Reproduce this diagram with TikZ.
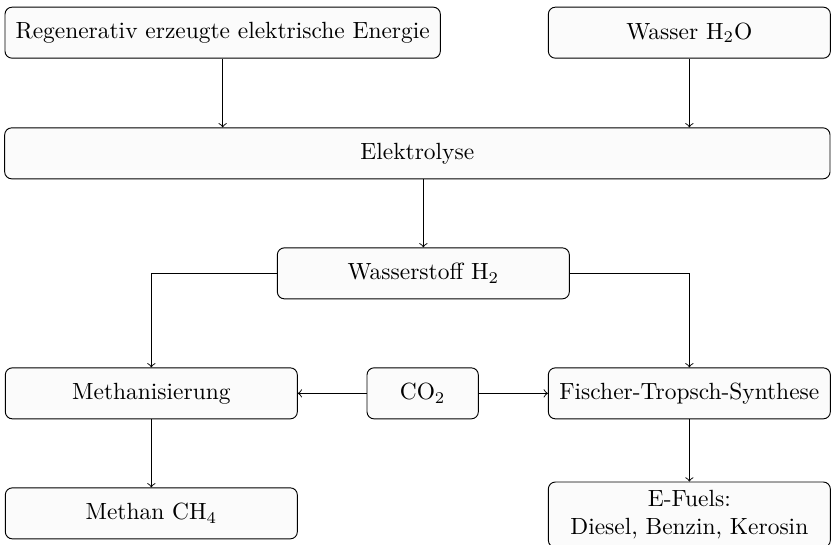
\documentclass[tikz,border=0pt]{standalone}
\usepackage{amsmath,amssymb}
\usepackage{tikz}

\tikzset{
  stage/.style={draw, rounded corners=3pt, fill=gray!3, minimum height=0.765cm, inner sep=2pt, align=center},
  flow/.style={->}
}

\begin{document}
\begin{tikzpicture}
  \useasboundingbox (0,0) rectangle (12.54,-8.16);
  \node[stage, minimum width=6.53cm] (strom) at (3.34,-0.49) {Regenerativ erzeugte elektrische Energie};
  \node[stage, minimum width=4.23cm] (wasser) at (10.34,-0.49) {Wasser H$_2$O};
  \node[stage, minimum width=12.38cm] (elyse) at (6.26,-2.30) {Elektrolyse};
  \node[stage, minimum width=4.38cm] (hzwei) at (6.35,-4.10) {Wasserstoff H$_2$};
  \node[stage, minimum width=4.38cm] (methan) at (2.27,-5.90) {Methanisierung};
  \node[stage, minimum width=1.67cm] (co) at (6.34,-5.90) {CO$_2$};
  \node[stage, minimum width=4.23cm] (ft) at (10.34,-5.90) {Fischer-Tropsch-Synthese};
  \node[stage, minimum width=4.38cm] (ch) at (2.27,-7.70) {Methan CH$_4$};
  \node[stage, minimum width=4.23cm, minimum height=0.98cm] (fuels) at (10.34,-7.72) {E-Fuels:\\ Diesel, Benzin, Kerosin};

  \draw[flow] (strom) -- (strom |- elyse.north);
  \draw[flow] (wasser) -- (wasser |- elyse.north);
  \draw[flow] (elyse.south -| hzwei) -- (hzwei);
  \draw[flow] (hzwei.west) -| (methan.north);
  \draw[flow] (hzwei.east) -| (ft.north);
  \draw[flow] (co) -- (methan);
  \draw[flow] (co) -- (ft);
  \draw[flow] (methan) -- (ch);
  \draw[flow] (ft) -- (fuels);
\end{tikzpicture}
\end{document}
